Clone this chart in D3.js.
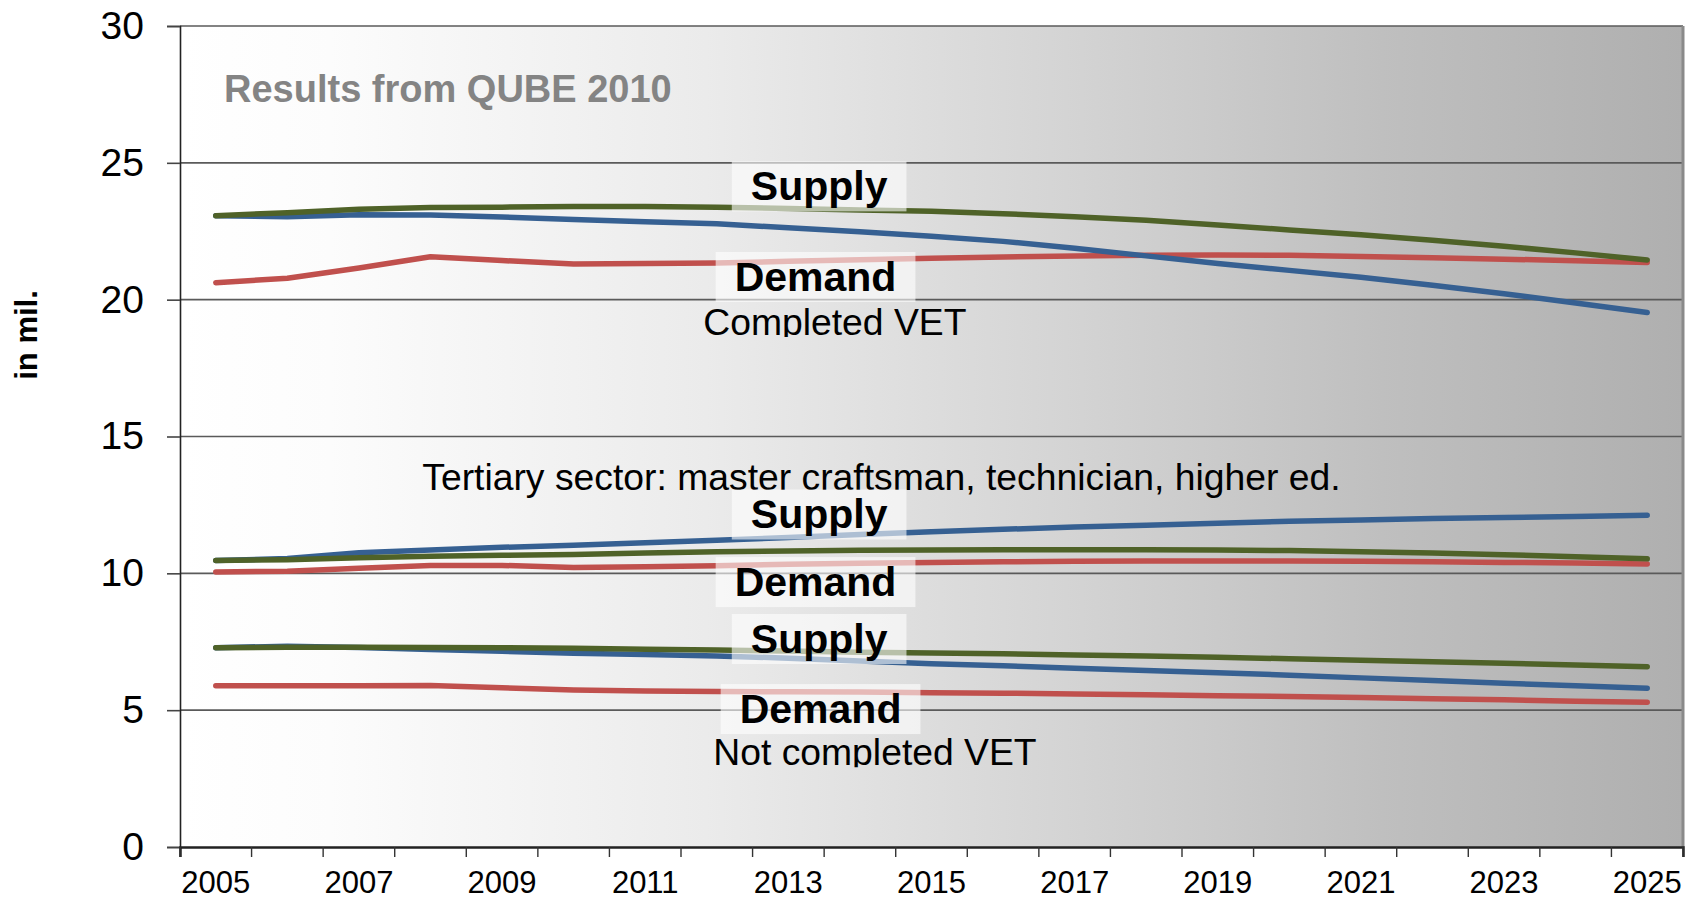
<!DOCTYPE html>
<html><head><meta charset="utf-8">
<script src="https://cdn.jsdelivr.net/npm/d3@7"></script>
<style>
body{margin:0;background:#fff}
svg{display:block}
text{font-family:"Liberation Sans",Arial,Helvetica,sans-serif}
</style>
</head><body>
<svg id="chart" width="1700" height="900"></svg>
<script>
// ---------- data ----------
const years = [2005,2006,2007,2008,2009,2010,2011,2012,2013,2014,2015,2016,2017,2018,2019,2020,2021,2022,2023,2024,2025];
const xLabelYears = [2005,2007,2009,2011,2013,2015,2017,2019,2021,2023,2025];
const yTickValues = [0,5,10,15,20,25,30];

// Completed VET
const completedSupplyGreen = [23.07,23.18,23.30,23.37,23.38,23.40,23.40,23.38,23.33,23.28,23.23,23.14,23.03,22.90,22.73,22.55,22.37,22.17,21.95,21.71,21.45];
const completedSupplyBlue  = [23.07,23.03,23.10,23.09,23.02,22.93,22.85,22.77,22.63,22.48,22.32,22.13,21.88,21.60,21.32,21.07,20.82,20.53,20.22,19.88,19.53];
const completedDemand      = [20.62,20.78,21.16,21.57,21.43,21.30,21.32,21.34,21.40,21.46,21.51,21.56,21.60,21.62,21.63,21.62,21.58,21.53,21.48,21.42,21.36];
// Tertiary sector
const tertiarySupplyGreen  = [10.47,10.50,10.57,10.62,10.66,10.69,10.74,10.79,10.82,10.84,10.85,10.86,10.86,10.86,10.85,10.83,10.79,10.74,10.68,10.61,10.53];
const tertiarySupplyBlue   = [10.47,10.54,10.75,10.85,10.95,11.03,11.12,11.21,11.31,11.42,11.52,11.61,11.69,11.76,11.83,11.90,11.95,12.00,12.04,12.08,12.12];
const tertiaryDemand       = [10.05,10.08,10.19,10.29,10.29,10.21,10.24,10.28,10.33,10.37,10.40,10.42,10.44,10.45,10.45,10.45,10.44,10.42,10.40,10.38,10.34];
// Not completed VET
const notCompletedSupplyGreen = [7.28,7.30,7.30,7.29,7.28,7.26,7.23,7.20,7.16,7.12,7.09,7.06,7.02,6.98,6.93,6.88,6.82,6.77,6.71,6.65,6.59];
const notCompletedSupplyBlue  = [7.28,7.34,7.29,7.22,7.15,7.08,7.03,6.98,6.90,6.80,6.70,6.62,6.53,6.45,6.37,6.28,6.18,6.08,5.98,5.89,5.80];
const notCompletedDemand      = [5.89,5.89,5.89,5.90,5.82,5.74,5.70,5.68,5.67,5.66,5.64,5.62,5.59,5.56,5.53,5.50,5.46,5.42,5.38,5.33,5.29];

// label annotations (anchored in data coordinates)
const boxLabels = [
  {text:"Supply", year:2013.43, value:24.14},
  {text:"Demand", year:2013.38, value:20.83},
  {text:"Supply", year:2013.43, value:12.15},
  {text:"Demand", year:2013.38, value:9.68},
  {text:"Supply", year:2013.43, value:7.60},
  {text:"Demand", year:2013.45, value:5.04}
];
const groupLabels = [
  {text:"Completed VET", year:2013.65, value:18.71, clip:true},
  {text:"Tertiary sector: master craftsman, technician, higher ed.", year:2014.30, value:13.05, clip:false},
  {text:"Not completed VET", year:2014.21, value:2.99, clip:true}
];
const titleText = "Results from QUBE 2010";
const yAxisTitle = "in mil.";

// ---------- layout ----------
const svg = d3.select("#chart");
const mLeft = 180, mRight = 1683, mTop = 26, mBottom = 847;
const colors = {green:"#4f6228", blue:"#366092", red:"#c0504d"};

const x = d3.scaleBand().domain(years).range([mLeft, mRight]).padding(0);
const bw = x.bandwidth();
const xc = d => x(d) + bw/2;
const xLin = d3.scaleLinear().domain([2005,2025]).range([xc(2005), xc(2025)]);
const y = d3.scaleLinear().domain([0,30]).range([mBottom, mTop]);

// background gradient
const defs = svg.append("defs");
const grad = defs.append("linearGradient").attr("id","bg").attr("x1","0").attr("x2","1").attr("y1","0").attr("y2","0");
[[0,"#ffffff"],[0.1,"#fcfcfc"],[0.35,"#ebebeb"],[0.6,"#d3d3d3"],[0.8,"#bfbfbf"],[1,"#afafaf"]]
  .forEach(s => grad.append("stop").attr("offset", s[0]).attr("stop-color", s[1]));
svg.append("rect").attr("x",mLeft).attr("y",mTop).attr("width",mRight-mLeft).attr("height",mBottom-mTop).attr("fill","url(#bg)");

// gridlines
svg.append("g").selectAll("line").data(yTickValues.filter(v=>v>0)).join("line")
  .attr("x1",mLeft).attr("x2",mRight).attr("y1",d=>y(d)).attr("y2",d=>y(d))
  .attr("stroke","#5a5a5a").attr("stroke-width",1.6);

// right border
svg.append("line").attr("x1",mRight).attr("x2",mRight).attr("y1",mTop).attr("y2",mBottom)
  .attr("stroke","#8a8a8a").attr("stroke-width",3);

// y axis
const yAxis = svg.append("g").attr("transform",`translate(${mLeft},0)`)
  .call(d3.axisLeft(y).tickValues(yTickValues).tickSize(13).tickPadding(23).tickFormat(d3.format("d")));
yAxis.select(".domain").attr("stroke","#222").attr("stroke-width",1.6);
yAxis.selectAll(".tick line").attr("stroke","#444").attr("stroke-width",1.6);
yAxis.selectAll(".tick text").attr("font-size",39).attr("fill","#000")
  .attr("font-family",'"Liberation Sans",Arial,sans-serif');

// x axis (ticks at category boundaries)
const xAxis = svg.append("g").attr("transform",`translate(0,${mBottom})`)
  .call(d3.axisBottom(x).tickValues(years).tickSize(10).tickPadding(14)
    .tickFormat(d => xLabelYears.includes(d) ? String(d) : ""));
xAxis.select(".domain").attr("stroke","#222").attr("stroke-width",2.5);
xAxis.selectAll(".tick line").attr("stroke","#333").attr("stroke-width",1.4).attr("transform",`translate(${-bw/2},0)`);
xAxis.append("line").attr("x1",mRight).attr("x2",mRight).attr("y1",0).attr("y2",10).attr("stroke","#333").attr("stroke-width",1.4);
xAxis.selectAll(".tick text").attr("font-size",31).attr("fill","#000")
  .attr("font-family",'"Liberation Sans",Arial,sans-serif');

// lines
const line = d3.line().x((d,i)=>xc(years[i])).y(d=>y(d));
const series = [
  {values: completedDemand, color: colors.red},
  {values: tertiaryDemand, color: colors.red},
  {values: notCompletedDemand, color: colors.red},
  {values: completedSupplyBlue, color: colors.blue},
  {values: tertiarySupplyBlue, color: colors.blue},
  {values: notCompletedSupplyBlue, color: colors.blue},
  {values: completedSupplyGreen, color: colors.green},
  {values: tertiarySupplyGreen, color: colors.green},
  {values: notCompletedSupplyGreen, color: colors.green}
];
svg.append("g").selectAll("path").data(series).join("path")
  .attr("d", d => line(d.values)).attr("fill","none")
  .attr("stroke", d => d.color).attr("stroke-width",5.5)
  .attr("stroke-linecap","round").attr("stroke-linejoin","round");

// title
svg.append("text").attr("x",224).attr("y",102).attr("font-size",38).attr("font-weight","bold")
  .attr("fill","#848484").text(titleText);

// y axis title
svg.append("text").attr("transform","translate(37,335) rotate(-90)").attr("text-anchor","middle")
  .attr("font-size",31).attr("font-weight","bold").attr("fill","#000").text(yAxisTitle);

// group labels
groupLabels.forEach((g,i) => {
  const cx = xLin(g.year), by = y(g.value);
  const t = svg.append("text").attr("x",cx).attr("y",by).attr("text-anchor","middle")
    .attr("font-size",37.3).attr("fill","#000").text(g.text);
  if (g.clip) {
    const id = "clip"+i;
    defs.append("clipPath").attr("id",id).append("rect")
      .attr("x",cx-400).attr("y",by-60).attr("width",800).attr("height",62);
    t.attr("clip-path",`url(#${id})`);
  }
});

// boxed Supply / Demand labels
const boxG = svg.append("g");
boxLabels.forEach(b => {
  const cx = xLin(b.year), cy = y(b.value);
  const t = boxG.append("text").attr("x",cx).attr("y",cy+14).attr("text-anchor","middle")
    .attr("font-size",41).attr("font-weight","bold").attr("fill","#000").text(b.text);
  const w = t.node().getComputedTextLength() + 38;
  boxG.insert("rect", () => t.node()).attr("x",cx-w/2).attr("y",cy-25).attr("width",w).attr("height",50)
    .attr("fill","#ffffff").attr("fill-opacity",0.6);
});
</script>
</body></html>
